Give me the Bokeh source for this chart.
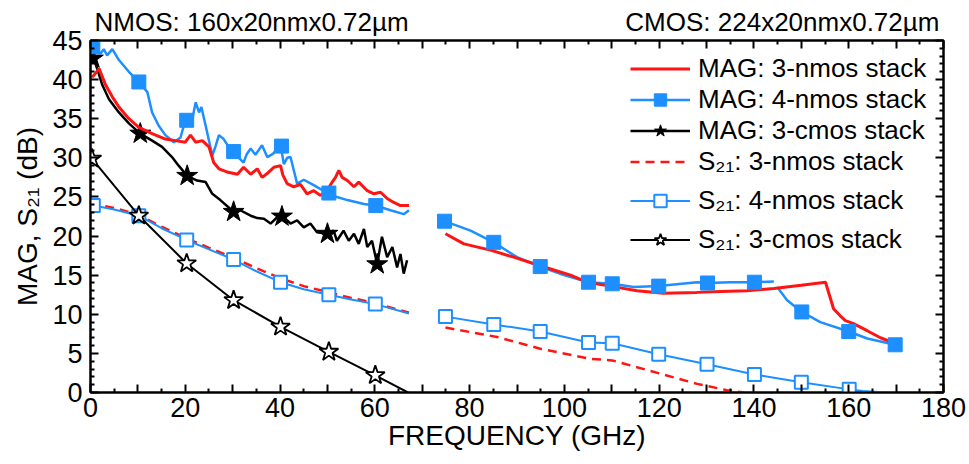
from bokeh.plotting import figure
from bokeh.models import Range1d, LinearAxis, FixedTicker, Legend, LegendItem
from bokeh.embed import file_html
from bokeh.resources import INLINE

RED = "#ff1414"
BLUE = "#1e8fff"
BLACK = "#000000"
FONT = "Liberation Sans"

# ---------------- data (GHz, dB) ----------------
# MAG: 3-nmos stack (red solid)
mag3n_f_l = [0.3, 0.8, 1.8, 3.2, 4.6, 6, 8.1, 10.2, 13, 15.8, 17.9, 20, 21.1, 22.2, 23.6, 25, 26, 27.1,
             28.8, 31, 32.3, 33.8, 35.2, 36.2, 37.5, 38.7, 40.1, 40.6, 41.5, 42.9, 44.3, 45.7, 47.1,
             48.5, 49.9, 51, 51.7, 52.4, 53.1, 54.2, 55.6, 56.6, 58.4, 59.8, 61.2, 62.6, 64, 65.4, 67.2]
mag3n_v_l = [40.3, 40.6, 41.4, 39.3, 37.8, 36.5, 35.0, 33.9, 33.1, 32.4, 32.2, 32.0, 32.9, 32.0, 32.2,
             31.4, 29.4, 28.6, 28.2, 27.9, 28.8, 27.9, 28.6, 27.5, 28.1, 28.8, 29.0, 27.8, 26.7, 26.3,
             26.6, 25.4, 25.8, 25.2, 25.8, 26.9, 27.5, 28.4, 27.5, 27.1, 26.3, 26.9, 25.8, 25.4, 25.6,
             24.8, 24.3, 23.9, 23.9]
mag3n_f_r = [74.9, 78.8, 84.4, 89.3, 94.9, 101.3, 104.8, 109.7, 115.3, 120.9, 128, 133, 138.5, 144.2,
             150, 155.1, 156.8, 158.2, 159.3, 161, 163.9, 166.7, 168.4, 169.5]
mag3n_v_r = [20.3, 19.0, 18.2, 17.3, 16.2, 15.0, 14.1, 13.6, 13.0, 12.7, 12.8, 12.9, 13.0, 13.3,
             13.7, 14.1, 10.7, 9.8, 9.2, 8.8, 7.9, 7.0, 6.6, 6.0]

# MAG: 4-nmos stack (blue, filled squares)
mag4n_f_l = [0.2, 0.4, 1.2, 2.1, 2.8, 3.5, 4.6, 6, 8.1, 10.2, 12, 13, 14.4, 15.8, 17.6, 19, 20, 21.5,
             22.2, 22.9, 23.4, 24.3, 25.7, 26.4, 27.1, 28.1, 29.9, 31, 32.3, 33, 33.8, 34.8, 35.5,
             36.2, 37.3, 38.5, 40.1, 40.8, 41.5, 42.2, 43.6, 45, 47.1, 50.3, 52, 54.2, 57.7, 60.1,
             63.3, 66.1, 67.2]
mag4n_v_l = [44.6, 44.4, 43.6, 43.3, 43.9, 43.1, 43.9, 42.5, 41.0, 39.7, 38.4, 35.8, 34.1, 32.9, 32.0,
             32.6, 34.8, 35.0, 37.1, 35.8, 36.5, 34.1, 30.3, 31.5, 32.9, 32.4, 30.7, 30.2, 29.4, 30.5,
             31.2, 30.4, 31.0, 31.6, 30.1, 30.5, 31.6, 29.2, 30.0, 30.1, 26.7, 27.2, 26.5, 25.4, 25.0,
             24.6, 24.1, 23.9, 23.3, 22.8, 23.3]
mag4n_f_r1 = [74.7, 80.2, 85.1, 90, 94.9, 99.9, 105.1, 110.1, 114.6, 119.9, 128, 130.2, 135, 140.1, 144.2]
mag4n_v_r1 = [21.9, 20.7, 19.2, 17.3, 16.1, 15.0, 14.1, 13.9, 13.5, 13.6, 14.1, 14.0, 14.1, 14.1, 14.2]
mag4n_f_r2 = [144.9, 147, 150.1, 154, 160, 163.9, 169.8]
mag4n_v_r2 = [13.5, 11.8, 10.3, 9.0, 7.8, 6.9, 6.1]
mag4n_mk_f = [0.5, 10.2, 20.3, 30.2, 40.3, 50.3, 60.2,
              74.7, 85.1, 94.9, 105.1, 110.1, 119.9, 130.2, 140.1, 150.1, 160, 169.8]
mag4n_mk_v = [44.2, 39.7, 34.8, 30.8, 31.5, 25.5, 23.9,
              21.9, 19.2, 16.1, 14.1, 13.9, 13.6, 14.0, 14.1, 10.3, 7.8, 6.1]

# MAG: 3-cmos stack (black, filled stars)
mag3c_f = [0.3, 0.7, 1.4, 2.5, 3.9, 6, 8.1, 10.5, 13, 15.1, 17.2, 18.6, 20.4, 22.5, 24.3, 25.7, 27.4,
           30.2, 31.6, 33.8, 35.2, 36.6, 38, 39.4, 40.4, 42.2, 43.6, 45, 46.4, 47.8, 49.9, 51.3, 52,
           53.4, 54.5, 55.6, 56.6, 57.7, 58.4, 59.4, 60.5, 61.5, 62.6, 63.7, 64.7, 65.4, 66.1, 66.8]
mag3c_v = [43.2, 42.7, 41.4, 39.3, 37.5, 35.8, 34.4, 33.1, 32.2, 31.4, 30.1, 29.0, 27.7, 27.1, 26.9,
           25.4, 24.6, 23.1, 23.3, 22.6, 22.3, 22.2, 21.6, 22.4, 22.6, 21.6, 22.0, 21.1, 21.6, 20.5,
           20.3, 20.7, 19.4, 20.7, 19.4, 20.3, 19.0, 20.9, 18.6, 19.4, 16.4, 19.9, 17.3, 18.6, 16.0,
           17.7, 15.2, 16.9]
mag3c_mk_f = [0.5, 10.5, 20.4, 30.2, 40.4, 50.0, 60.5]
mag3c_mk_v = [42.7, 33.1, 27.7, 23.1, 22.5, 20.3, 16.4]

# S21: 3-nmos stack (red dashed)
s3n_f_l = [0, 5, 10.2, 15, 20.3, 25, 30.2, 35, 40.1, 45, 50.3, 55, 60.1, 67.2]
s3n_v_l = [24.2, 23.6, 22.7, 21.2, 19.7, 18.5, 17.2, 15.9, 14.6, 13.6, 12.8, 12.1, 11.4, 10.2]
s3n_f_r = [74.9, 85.8, 94.9, 105.5, 110.1, 120.3, 128, 134.3, 138]
s3n_v_r = [8.3, 7.1, 5.6, 4.3, 4.1, 2.4, 1.1, 0.3, 0.0]

# S21: 4-nmos stack (blue, open squares)
s4n_f_l = [0, 0.6, 5, 10.2, 15, 20.3, 25, 30.2, 35, 40.1, 45, 50.3, 55, 60.1, 67.2]
s4n_v_l = [24.0, 23.9, 23.4, 22.6, 21.0, 19.5, 18.3, 17.0, 15.5, 14.1, 13.2, 12.5, 11.9, 11.3, 10.1]
s4n_f_r = [74.9, 85.1, 94.9, 105.1, 110.1, 119.9, 130.1, 140.1, 150, 160.1, 163, 168]
s4n_v_r = [9.7, 8.7, 7.8, 6.4, 6.3, 4.9, 3.6, 2.3, 1.3, 0.4, 0.2, 0.0]
s4n_mk_f = [0.6, 10.2, 20.3, 30.2, 40.1, 50.3, 60.1,
            74.9, 85.1, 94.9, 105.1, 110.1, 119.9, 130.1, 140.1, 150, 160.1]
s4n_mk_v = [23.9, 22.6, 19.5, 17.0, 14.1, 12.5, 11.3,
            9.7, 8.7, 7.8, 6.4, 6.3, 4.9, 3.6, 2.3, 1.3, 0.4]

# S21: 3-cmos stack (black, open stars)
s3c_f = [0.3, 10.2, 20.3, 30.2, 40.1, 50.3, 60.1, 67.0]
s3c_v = [29.9, 22.6, 16.5, 11.8, 8.4, 5.2, 2.2, 0.0]
s3c_mk_f = [0.3, 10.2, 20.3, 30.2, 40.1, 50.3, 60.1]
s3c_mk_v = [29.9, 22.6, 16.5, 11.8, 8.4, 5.2, 2.2]

x_major = [0, 10, 20, 30, 40, 50, 60, 70, 80, 90, 100, 110, 120, 130, 140, 150, 160, 170, 180]
x_minor = [5, 15, 25, 35, 45, 55, 65, 75, 85, 95, 105, 115, 125, 135, 145, 155, 165, 175]
y_major = [0, 5, 10, 15, 20, 25, 30, 35, 40, 45]
y_minor = [i for i in range(46) if i % 5 != 0]

legend_labels = ["MAG: 3-nmos stack", "MAG: 4-nmos stack", "MAG: 3-cmos stack",
                 "S\u2082\u2081: 3-nmos stack", "S\u2082\u2081: 4-nmos stack", "S\u2082\u2081: 3-cmos stack"]
title_left = "NMOS: 160x20nmx0.72\u00b5m"
title_right = "CMOS: 224x20nmx0.72\u00b5m"
title_pos = [34, 146]

# ---------------- figure ----------------
p = figure(width=969, height=464, output_backend="svg", toolbar_location=None,
           x_range=Range1d(0, 180), y_range=Range1d(0, 45),
           min_border_left=90, min_border_right=26, min_border_top=40, min_border_bottom=72)
p.xgrid.visible = False
p.ygrid.visible = False
p.outline_line_color = "black"
p.outline_line_width = 2
p.background_fill_color = "white"

xt = FixedTicker(ticks=x_major, minor_ticks=x_minor)
yt = FixedTicker(ticks=y_major, minor_ticks=y_minor)
x_over = {v: ("" if v % 20 else str(v)) for v in x_major}


def style_axis(ax, size="27px"):
    ax.axis_line_width = 2
    ax.axis_line_color = "black"
    ax.major_tick_in = 8
    ax.major_tick_out = 0
    ax.minor_tick_in = 4
    ax.minor_tick_out = 0
    ax.major_tick_line_width = 2
    ax.minor_tick_line_width = 2
    ax.major_label_text_font = FONT
    ax.major_label_text_font_size = size
    ax.major_label_text_color = "black"
    ax.axis_label_text_font = FONT
    ax.axis_label_text_font_size = "28px"
    ax.axis_label_text_font_style = "normal"
    ax.axis_label_text_color = "black"


xa = p.xaxis[0]
xa.ticker = xt
xa.major_label_overrides = x_over
xa.axis_label = "FREQUENCY (GHz)"
style_axis(xa)
xa.major_label_standoff = 5
xa.axis_label_standoff = 0

ya = p.yaxis[0]
ya.ticker = yt
ya.axis_label = "MAG, S\u2082\u2081 (dB)"
style_axis(ya)
ya.major_label_standoff = 8
ya.axis_label_standoff = 6

top = LinearAxis(ticker=xt, major_label_overrides={v: "" for v in x_major})
style_axis(top, "1px")
top.major_label_standoff = 0
p.add_layout(top, "above")

ttl = LinearAxis(ticker=FixedTicker(ticks=title_pos, minor_ticks=[]),
                 major_label_overrides={title_pos[0]: title_left, title_pos[1]: title_right})
style_axis(ttl, "26px")
ttl.axis_line_color = None
ttl.major_tick_line_color = None
ttl.minor_tick_line_color = None
ttl.major_label_standoff = 4
p.add_layout(ttl, "above")

right = LinearAxis(ticker=yt, major_label_overrides={v: "" for v in y_major})
style_axis(right, "1px")
right.major_label_standoff = 0
p.add_layout(right, "right")

# ---------------- glyphs ----------------
r_s3n_l = p.line(s3n_f_l, s3n_v_l, line_color=RED, line_width=2.5, line_dash="9 6")
p.line(s3n_f_r, s3n_v_r, line_color=RED, line_width=2.5, line_dash="9 6")

r_s4n_l = p.line(s4n_f_l, s4n_v_l, line_color=BLUE, line_width=2)
p.line(s4n_f_r, s4n_v_r, line_color=BLUE, line_width=2)
r_s4n_m = p.scatter(s4n_mk_f, s4n_mk_v, marker="square", size=13, fill_color="white",
                    line_color=BLUE, line_width=2)

r_s3c_l = p.line(s3c_f, s3c_v, line_color=BLACK, line_width=2)
r_s3c_m = p.scatter(s3c_mk_f, s3c_mk_v, marker="star", size=20, fill_color="white",
                    line_color=BLACK, line_width=1.8)

r_m3c_l = p.line(mag3c_f, mag3c_v, line_color=BLACK, line_width=2.5)
r_m3c_m = p.scatter(mag3c_mk_f, mag3c_mk_v, marker="star", size=22, fill_color=BLACK,
                    line_color=BLACK)

r_m4n_l = p.line(mag4n_f_l, mag4n_v_l, line_color=BLUE, line_width=2.5)
p.line(mag4n_f_r1, mag4n_v_r1, line_color=BLUE, line_width=2.5)
p.line(mag4n_f_r2, mag4n_v_r2, line_color=BLUE, line_width=2.5)

r_m3n_l = p.line(mag3n_f_l, mag3n_v_l, line_color=RED, line_width=3)
p.line(mag3n_f_r, mag3n_v_r, line_color=RED, line_width=3)

r_m4n_m = p.scatter(mag4n_mk_f, mag4n_mk_v, marker="square", size=14, fill_color=BLUE,
                    line_color=BLUE)


def make_legend(items, loc, spacing):
    lg = Legend(items=items, location=loc)
    lg.label_text_font = FONT
    lg.label_text_font_size = "26px"
    lg.label_text_color = "black"
    lg.glyph_width = 60
    lg.glyph_height = 31
    lg.label_height = 31
    lg.spacing = spacing
    lg.padding = 0
    lg.margin = 0
    lg.label_standoff = 8
    lg.border_line_color = None
    lg.background_fill_alpha = 0
    return lg


leg_mag = make_legend([
    LegendItem(label=legend_labels[0], renderers=[r_m3n_l]),
    LegendItem(label=legend_labels[1], renderers=[r_m4n_l, r_m4n_m]),
    LegendItem(label=legend_labels[2], renderers=[r_m3c_l, r_m3c_m]),
], (540, 246), 0)
leg_s21 = make_legend([
    LegendItem(label=legend_labels[3], renderers=[r_s3n_l]),
    LegendItem(label=legend_labels[4], renderers=[r_s4n_l, r_s4n_m]),
    LegendItem(label=legend_labels[5], renderers=[r_s3c_l, r_s3c_m]),
], (540, 137), 8)
p.add_layout(leg_mag)
p.add_layout(leg_s21)

open("out.html", "w").write(file_html(p, INLINE))
